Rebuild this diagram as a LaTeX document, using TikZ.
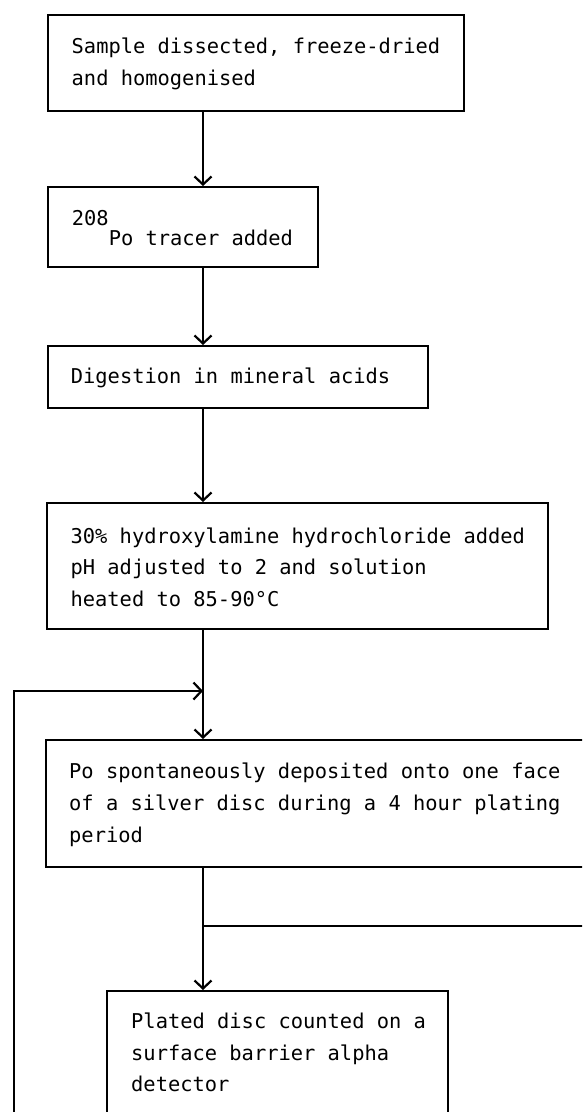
\documentclass[tikz,border=0pt]{standalone}
\usepackage{fontspec}
\newfontfamily\tw{DejaVu Sans Mono}
\usetikzlibrary{arrows.meta}
\tikzset{
  box/.style={draw, line width=2.2pt, anchor=north west, inner sep=0pt, rectangle},
  arr/.style={line width=2.2pt, -{Straight Barb[length=8pt,width=17pt,line width=2.2pt]}},
  conn/.style={line width=2.2pt},
  txt/.style={anchor=base west, inner sep=0pt, font=\tw\fontsize{20.4}{24}\selectfont}
}
\begin{document}
\begin{tikzpicture}[x=1pt,y=-1pt]
\useasboundingbox[fill=white] (0,0) rectangle (582,1112);
\clip (0,0) rectangle (582,1112);
% boxes
\node[box, minimum width=416pt, minimum height=96pt] (b1) at (47,14) {};
\node[box, minimum width=270pt, minimum height=80pt] (b2) at (47,186) {};
\node[box, minimum width=380pt, minimum height=62pt] (b3) at (47,345) {};
\node[box, minimum width=501pt, minimum height=126pt] (b4) at (46,502) {};
\node[box, minimum width=580pt, minimum height=127pt] (b5) at (45,739) {};
\node[box, minimum width=341pt, minimum height=150pt] (b6) at (106,990) {};
% texts
\node[txt] (t1a) at (71.5,53) {Sample dissected, freeze-dried};
\node[txt] (t1b) at (71.5,85) {and homogenised};
\node[txt] (t2s) at (71.7,225) {208};
\node[txt] (t2) at (108.6,245) {Po tracer added};
\node[txt] (t3) at (70.7,383) {Digestion in mineral acids};
\node[txt] (t4a) at (70.4,543) {30\% hydroxylamine hydrochloride added};
\node[txt] (t4b) at (70.4,574) {pH adjusted to 2 and solution};
\node[txt] (t4c) at (70.4,606) {heated to 85-90°C};
\node[txt] (t5a) at (69,778) {Po spontaneously deposited onto one face};
\node[txt] (t5b) at (69,810) {of a silver disc during a 4 hour plating};
\node[txt] (t5c) at (69,842) {period};
\node[txt] (t6a) at (131,1028) {Plated disc counted on a};
\node[txt] (t6b) at (131,1060) {surface barrier alpha};
\node[txt] (t6c) at (131,1091) {detector};
% connector coordinates
\coordinate (v) at (203,0);
\coordinate (j1) at (203,691);
\coordinate (lb) at (14,1130);
\coordinate (j2) at (203,926);
\coordinate (r2) at (600,926);
% connectors
\draw[arr] (b1.south -| v) -- (b2.north -| v);
\draw[arr] (b2.south -| v) -- (b3.north -| v);
\draw[arr] (b3.south -| v) -- (b4.north -| v);
\draw[arr] (b4.south -| v) -- (b5.north -| v);
\draw[arr] (lb) |- (j1);
\draw[conn] (j2) -- (r2);
\draw[arr] (b5.south -| v) -- (b6.north -| v);
\end{tikzpicture}
\end{document}
